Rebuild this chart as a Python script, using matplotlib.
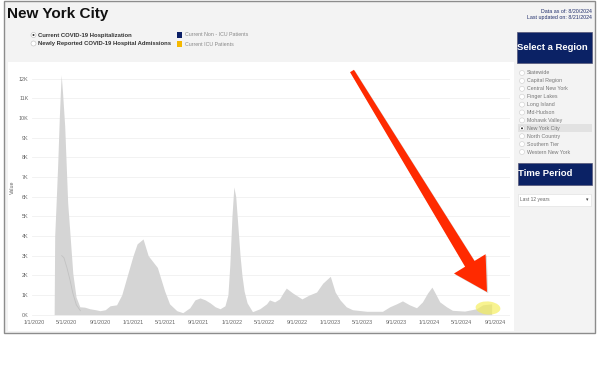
import matplotlib
matplotlib.use('Agg')
import matplotlib.pyplot as plt
from matplotlib.patches import Rectangle, Polygon, Ellipse
import numpy as np
import pandas as pd

plt.rcParams['font.family'] = ['Liberation Sans', 'DejaVu Sans']

# ---- data ----
hosp_dates = [
    "2020-03-15", "2020-03-17", "2020-03-22", "2020-03-28", "2020-04-03", "2020-04-07",
    "2020-04-10", "2020-04-15", "2020-04-23", "2020-05-04", "2020-05-12", "2020-05-23",
    "2020-06-04", "2020-06-18", "2020-07-06", "2020-07-25", "2020-08-15", "2020-09-01",
    "2020-09-20", "2020-10-08", "2020-11-01", "2020-11-20", "2020-12-13", "2021-01-01",
    "2021-01-16", "2021-02-07", "2021-02-26", "2021-03-15", "2021-04-01", "2021-04-10",
    "2021-04-28", "2021-05-16", "2021-06-12", "2021-07-04", "2021-07-30", "2021-08-18",
    "2021-09-06", "2021-09-25", "2021-10-13", "2021-11-01", "2021-11-19", "2021-12-07",
    "2021-12-18", "2021-12-25", "2022-01-02", "2022-01-09", "2022-01-16", "2022-01-24",
    "2022-02-01", "2022-02-08", "2022-02-16", "2022-02-27", "2022-03-19", "2022-04-15",
    "2022-05-10", "2022-05-21", "2022-06-09", "2022-06-27", "2022-07-10", "2022-07-22",
    "2022-08-15", "2022-09-18", "2022-10-15", "2022-11-11", "2022-12-04", "2023-01-01",
    "2023-01-19", "2023-02-06", "2023-03-01", "2023-03-24", "2023-05-16", "2023-07-13",
    "2023-08-09", "2023-09-03", "2023-09-25", "2023-10-21", "2023-11-16", "2023-12-08",
    "2023-12-27", "2024-01-12", "2024-01-22", "2024-02-10", "2024-03-06", "2024-03-28",
    "2024-05-12", "2024-06-25", "2024-07-18", "2024-08-20",
]
hosp_values = [
    0, 4000, 5600, 7600, 10000, 11300,
    12200, 11300, 9600, 5700, 4200, 2100,
    900, 400, 380, 300, 250, 200,
    250, 450, 500, 1000, 2100, 3000,
    3600, 3850, 3000, 2700, 2400, 2000,
    1200, 550, 200, 100, 350, 750,
    850, 750, 600, 400, 300, 450,
    1000, 2500, 5000, 6500, 6000, 4500,
    3000, 2000, 1200, 600, 150, 300,
    550, 750, 650, 800, 1100, 1350,
    1100, 800, 1000, 1150, 1600, 1950,
    1150, 750, 400, 250, 170, 170,
    400, 550, 700, 500, 350, 650,
    1100, 1400, 1150, 650, 400, 220,
    180, 300, 500, 550,
]
icu_dates = ["2020-04-12", "2020-04-20", "2020-05-01", "2020-05-12", "2020-05-23", "2020-06-05", "2020-06-20"]
icu_values = [3000, 2900, 2400, 1800, 1100, 500, 200]

y_ticks = list(range(0, 13000, 1000))
y_tick_labels = [f"{v // 1000}K" for v in y_ticks]
x_tick_dates = ["2020-01-01", "2020-05-01", "2020-09-01", "2021-01-01", "2021-05-01", "2021-09-01",
                "2022-01-01", "2022-05-01", "2022-09-01", "2023-01-01", "2023-05-01", "2023-09-01",
                "2024-01-01", "2024-05-01", "2024-09-01"]
regions = ["Statewide", "Capital Region", "Central New York", "Finger Lakes", "Long Island",
           "Mid-Hudson", "Mohawk Valley", "New York City", "North Country", "Southern Tier",
           "Western New York"]
selected_region = "New York City"

W, H = 600, 380


def fx(x):
    return x / W


def fy(y):
    return 1 - y / H


fig = plt.figure(figsize=(6, 3.8), dpi=100)
fig.patch.set_facecolor('white')

# outer dashboard frame
fig.patches.append(Rectangle((fx(4), fy(333)), fx(595) - fx(4), fy(1) - fy(333),
                             transform=fig.transFigure, facecolor='#f3f3f3',
                             edgecolor='#8c8c8c', linewidth=1.0, zorder=-3))
# white plot panel
fig.patches.append(Rectangle((fx(8), fy(331)), fx(514) - fx(8), fy(62) - fy(331),
                             transform=fig.transFigure, facecolor='white',
                             edgecolor='none', zorder=-2))

# ---- main axes ----
ax = fig.add_axes([fx(32), fy(317), fx(510) - fx(32), fy(65) - fy(317)])
ax.set_zorder(1)
ax.set_facecolor('none')
xd = pd.to_datetime(hosp_dates)
ax.fill_between(xd, 0, hosp_values, color='#d5d5d5', linewidth=0, zorder=2)
ax.plot(pd.to_datetime(icu_dates), icu_values, color='#c2c2c2', linewidth=0.6, zorder=3)

ax.set_xlim(pd.Timestamp("2019-12-24"), pd.Timestamp("2024-10-27"))
ax.set_ylim(-120, 12700)
ax.set_yticks(y_ticks)
ax.set_yticklabels(y_tick_labels)
xt = pd.to_datetime(x_tick_dates)
ax.set_xticks(xt)
ax.set_xticklabels([f"{d.month}/{d.day}/{d.year}" for d in xt])
ax.tick_params(axis='both', length=0, labelsize=3.9, colors='#666666', pad=2.5)
ax.grid(axis='y', color='#f0f0f0', linewidth=0.6, zorder=0)
ax.set_axisbelow(True)
for s in ax.spines.values():
    s.set_visible(False)
ax.set_ylabel("Value", fontsize=3.9, color='#666666', va='center')
ax.yaxis.set_label_coords(-(32 - 12) / (510 - 32), (317 - 187) / (317 - 65))

# ---- title & header ----
fig.text(fx(7), fy(14), "New York City", fontsize=11.0, fontweight='bold', color='#111111',
         va='center', ha='left')
fig.text(fx(592), fy(11.5), "Data as of: 8/20/2024", fontsize=3.8, color='#1f2d6b', ha='right', va='center')
fig.text(fx(592), fy(18), "Last updated on: 8/21/2024", fontsize=3.8, color='#1f2d6b', ha='right', va='center')

# radio options
for yy, label, sel in [(35, "Current COVID-19 Hospitalization", True),
                       (43.5, "Newly Reported COVID-19 Hospital Admissions", False)]:
    fig.patches.append(Ellipse((fx(33.5), fy(yy)), 5 / W, 5 / H, transform=fig.transFigure,
                               facecolor='white', edgecolor='#bbbbbb', linewidth=0.4, zorder=3))
    if sel:
        fig.patches.append(Ellipse((fx(33.5), fy(yy)), 2 / W, 2 / H, transform=fig.transFigure,
                                   facecolor='#333333', edgecolor='none', zorder=4))
    fig.text(fx(38), fy(yy), label, fontsize=4.2, fontweight='bold', color='#333333', va='center', ha='left')

# legend
for yy, label, col in [(35, "Current Non - ICU Patients", '#0b1f66'),
                       (44, "Current ICU Patients", '#f5b800')]:
    fig.patches.append(Rectangle((fx(177), fy(yy + 2.5)), 5 / W, 5 / H, transform=fig.transFigure,
                                 facecolor=col, edgecolor='none', zorder=3))
    fig.text(fx(185), fy(yy), label, fontsize=3.8, color='#888888', va='center', ha='left')

# ---- right panel ----
navy = '#0b2265'
fig.patches.append(Rectangle((fx(517), fy(63)), fx(592) - fx(517), fy(32) - fy(63),
                             transform=fig.transFigure, facecolor=navy, edgecolor='#555577',
                             linewidth=0.5, zorder=3))
fig.text(fx(517), fy(47.5), "Select a Region", fontsize=6.8, fontweight='bold', color='white',
         va='center', ha='left', zorder=4)

y0, dy = 73, 7.9
for i, r in enumerate(regions):
    yy = y0 + i * dy
    if r == selected_region:
        fig.patches.append(Rectangle((fx(518), fy(yy + 3.9)), fx(592) - fx(518), 7.8 / H,
                                     transform=fig.transFigure, facecolor='#e2e2e2',
                                     edgecolor='none', zorder=2))
    fig.patches.append(Ellipse((fx(522), fy(yy)), 5 / W, 5 / H, transform=fig.transFigure,
                               facecolor='white', edgecolor='#cccccc', linewidth=0.4, zorder=3))
    if r == selected_region:
        fig.patches.append(Ellipse((fx(522), fy(yy)), 2 / W, 2 / H, transform=fig.transFigure,
                                   facecolor='#333333', edgecolor='none', zorder=4))
    fig.text(fx(527), fy(yy), r, fontsize=3.8, color='#777777', va='center', ha='left')

fig.patches.append(Rectangle((fx(518), fy(185)), fx(592) - fx(518), fy(163) - fy(185),
                             transform=fig.transFigure, facecolor=navy, edgecolor='#555577',
                             linewidth=0.5, zorder=3))
fig.text(fx(518), fy(174), "Time Period", fontsize=6.8, fontweight='bold', color='white',
         va='center', ha='left', zorder=4)

fig.patches.append(Rectangle((fx(518), fy(206)), fx(591) - fx(518), fy(194) - fy(206),
                             transform=fig.transFigure, facecolor='white', edgecolor='#dddddd',
                             linewidth=0.4, zorder=3))
fig.text(fx(520), fy(200), "Last 12 years", fontsize=3.5, color='#666666', va='center', ha='left', zorder=4)
fig.text(fx(587), fy(200), "▾", fontsize=3.5, color='#444444', va='center', ha='center', zorder=4)

# ---- annotations: red arrow and yellow highlight ----
start = np.array([352.0, 71.0])
tip = np.array([487.0, 292.0])
u = (tip - start) / np.linalg.norm(tip - start)
n = np.array([u[1], -u[0]])
L = np.linalg.norm(tip - start)
base = start + u * (L - 33)
pts = [start + n * 2.3, base + n * 5.5, base + n * 18.5, tip,
       base - n * 18.5, base - n * 5.5, start - n * 2.3]
shadow = [(fx(p[0] + 1.2), fy(p[1] + 1.2)) for p in pts]
fig.patches.append(Polygon(shadow, closed=True, transform=fig.transFigure,
                           facecolor='#000000', alpha=0.15, edgecolor='none', zorder=8))
fig.patches.append(Polygon([(fx(p[0]), fy(p[1])) for p in pts], closed=True,
                           transform=fig.transFigure, facecolor='#ff2a00', edgecolor='none', zorder=9))

fig.patches.append(Ellipse((fx(488), fy(308)), 25 / W, 13 / H, angle=-14,
                           transform=fig.transFigure, facecolor='#f5ee55', alpha=0.65,
                           edgecolor='none', zorder=7))

fig.savefig("out.png", dpi=100)
